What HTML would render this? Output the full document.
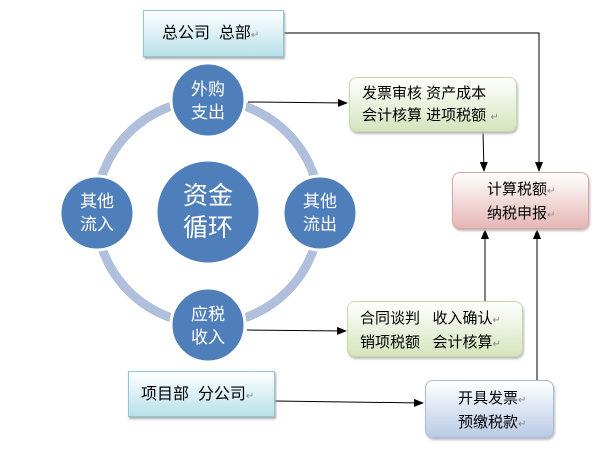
<!DOCTYPE html>
<html><head><meta charset="utf-8"><style>
body{margin:0;width:606px;height:469px;background:#fff;position:relative;overflow:hidden;font-family:"Liberation Sans","Noto Sans CJK SC",sans-serif}
.b{position:absolute;box-sizing:border-box;font-size:15px;color:#000;line-height:22px}
.ret{color:#888;font-size:10px}
</style></head><body>
<svg width="606" height="469" style="position:absolute;left:0;top:0">
<defs>
<marker id="a" markerWidth="10" markerHeight="8" refX="9" refY="4" orient="auto" markerUnits="userSpaceOnUse"><path d="M0,0 L10,4 L0,8z" fill="#000"/></marker>
</defs>
<circle cx="208" cy="212" r="112" fill="none" stroke="#b0bfdc" stroke-width="9"/>
<g fill="#4f7fba" stroke="#fff" stroke-width="3">
<circle cx="208" cy="212" r="52"/>
<circle cx="208" cy="100" r="37"/>
<circle cx="208" cy="325" r="37"/>
<circle cx="97" cy="213" r="37"/>
<circle cx="320" cy="213" r="37"/>
</g>
<g fill="#fff" font-family="Liberation Sans,Noto Sans CJK SC,sans-serif" text-anchor="middle">
<text x="208" y="204" font-size="25">资金</text><text x="208" y="236" font-size="25">循环</text>
<text x="208" y="95" font-size="17">外购</text><text x="208" y="118" font-size="17">支出</text>
<text x="208" y="320" font-size="17">应税</text><text x="208" y="343" font-size="17">收入</text>
<text x="97" y="207" font-size="17">其他</text><text x="97" y="230" font-size="17">流入</text>
<text x="320" y="207" font-size="17">其他</text><text x="320" y="230" font-size="17">流出</text>
</g>
<g stroke="#000" stroke-width="1" fill="none">
<polyline points="284,33 539,33 539,171" marker-end="url(#a)"/>
<line x1="483" y1="132" x2="484" y2="171" marker-end="url(#a)"/>
<line x1="485" y1="301" x2="485" y2="230" marker-end="url(#a)"/>
<line x1="537" y1="380" x2="537" y2="230" marker-end="url(#a)"/>
<line x1="248" y1="102" x2="347" y2="103" marker-end="url(#a)"/>
<line x1="247" y1="330" x2="346" y2="331" marker-end="url(#a)"/>
<line x1="275" y1="401" x2="423" y2="403" marker-end="url(#a)"/>
</g>
</svg>
<div class="b" style="left:143px;top:10px;width:141px;height:47px;border:1px solid #8cc8d6;background:linear-gradient(#fff,#b9e0ea);box-shadow:1px 2px 2px #aaa;padding:12px 0 0 18px;font-size:16px">总公司&nbsp; 总部<span class="ret">↵</span></div>
<div class="b" style="left:128px;top:371px;width:147px;height:46px;border:1px solid #8cc8d6;background:linear-gradient(#fff,#b9e0ea);box-shadow:1px 2px 2px #aaa;padding:12px 0 0 12px;font-size:16px">项目部&nbsp; 分公司<span class="ret">↵</span></div>
<div class="b" style="left:349px;top:77px;width:168px;height:55px;border:1px solid #c6d9a8;border-radius:8px;background:linear-gradient(#fff,#d6e4bd);box-shadow:1px 2px 2px #bbb;padding:5px 0 0 12px">发票审核 资产成本<br>会计核算 进项税额 <span class="ret">↵</span></div>
<div class="b" style="left:452px;top:172px;width:137px;height:57px;border:1px solid #dca5a5;border-radius:8px;background:linear-gradient(#fff,#e6b6b6);box-shadow:1px 2px 2px #bbb;padding:6px 0 0 34px">计算税额<span class="ret">↵</span><br>纳税申报<span class="ret">↵</span></div>
<div class="b" style="left:347px;top:301px;width:176px;height:56px;border:1px solid #c6d9a8;border-radius:8px;background:linear-gradient(#fff,#d6e4bd);box-shadow:1px 2px 2px #bbb;padding:6px 0 0 12px">合同谈判&nbsp;&nbsp; 收入确认<span class="ret">↵</span><br>销项税额&nbsp;&nbsp; 会计核算<span class="ret">↵</span></div>
<div class="b" style="left:425px;top:380px;width:129px;height:58px;border:1px solid #a7bcdc;border-radius:8px;background:linear-gradient(#fff,#b9cbe6);box-shadow:1px 2px 2px #bbb;padding:7px 0 0 32px">开具发票<span class="ret">↵</span><br>预缴税款<span class="ret">↵</span></div>
</body></html>
